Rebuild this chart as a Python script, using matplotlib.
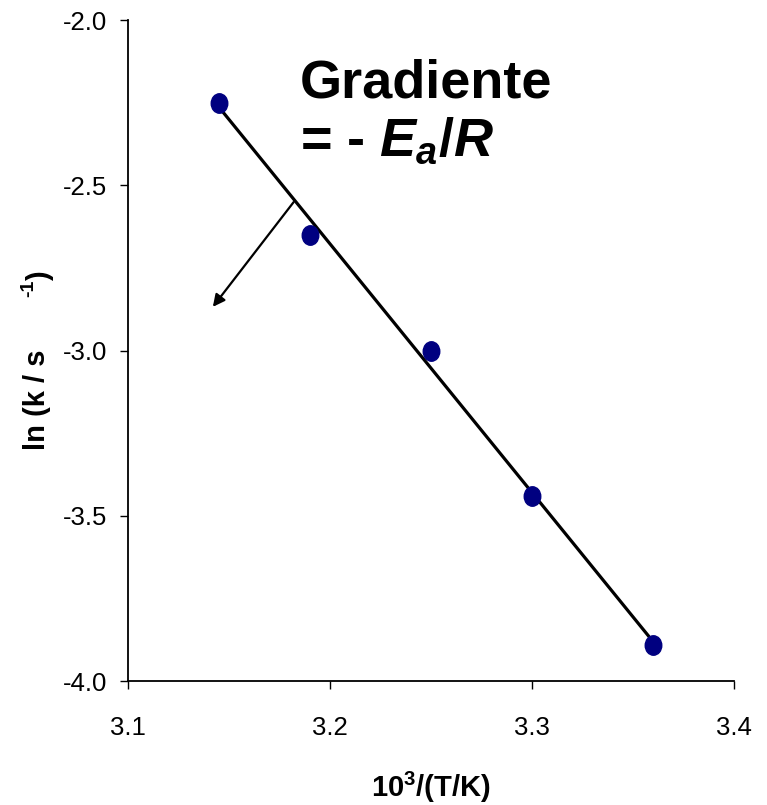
import matplotlib
matplotlib.use("Agg")
import matplotlib.pyplot as plt
import numpy as np
from matplotlib.path import Path
from matplotlib.transforms import Affine2D

# data
inv_T = [3.145, 3.19, 3.25, 3.30, 3.36]
ln_k = [-2.25, -2.65, -3.00, -3.44, -3.89]
x_ticks = [3.1, 3.2, 3.3, 3.4]
y_ticks = [-4.0, -3.5, -3.0, -2.5, -2.0]
arrow_from = (3.182, -2.551)
arrow_to = (3.142, -2.868)

plt.rcParams['font.family'] = ['Liberation Sans', 'DejaVu Sans']
plt.rcParams['mathtext.fontset'] = 'custom'
plt.rcParams['mathtext.rm'] = 'Liberation Sans:bold'
plt.rcParams['mathtext.it'] = 'Liberation Sans:bold:italic'
plt.rcParams['mathtext.bf'] = 'Liberation Sans:bold'

fig = plt.figure(figsize=(7.67, 8.05), dpi=100)
ax = fig.add_axes([128 / 767, 1 - 681 / 805, 606 / 767, 661 / 805])

# slightly tall ellipse marker
ellipse = Path.unit_circle().transformed(Affine2D().scale(0.85, 1.0))

# regression line across the data range
slope, icpt = np.polyfit(inv_T, ln_k, 1)
xs = np.array([min(inv_T), max(inv_T)])
ax.plot(xs, slope * xs + icpt, color='black', lw=2.3, zorder=2)
ax.plot(inv_T, ln_k, linestyle='none', marker=ellipse, markersize=14,
        color='#000080', zorder=3)

ax.annotate('', xy=arrow_to, xytext=arrow_from,
            arrowprops=dict(arrowstyle='-|>', color='black', lw=1.6,
                            mutation_scale=18, shrinkA=0, shrinkB=0))

ax.set_xlim(3.1, 3.4)
ax.set_ylim(-4.0, -2.0)
ax.set_xticks(x_ticks)
ax.set_yticks(y_ticks)
ax.set_xticklabels([f'{v:.1f}' for v in x_ticks])
ax.set_yticklabels([f'{v:.1f}' for v in y_ticks])
ax.tick_params(axis='both', direction='out', length=6, width=1, labelsize=18.5)
ax.tick_params(axis='x', pad=19)
ax.tick_params(axis='y', pad=9)
for s in ['top', 'right']:
    ax.spines[s].set_visible(False)
for s in ['left', 'bottom']:
    ax.spines[s].set_linewidth(1.3)

fig.text(300 / 767, 1 - 97 / 805, 'Gradiente',
         weight='bold', fontsize=39, ha='left', va='baseline')
fig.text(300 / 767, 1 - 156 / 805, r'= - $E_{a}$/$R$',
         weight='bold', fontsize=39, ha='left', va='baseline')

fig.text(431 / 767, 1 - 797 / 805, r'10$^{3}$/(T/K)',
         weight='bold', fontsize=21, ha='center', va='baseline')

# y label in pieces, as in the original
fig.text(37 / 767, 1 - 450 / 805, 'ln (k / s',
         weight='bold', fontsize=21, rotation=90, ha='center', va='bottom')
fig.text(29 / 767, 1 - 288 / 805, '-1',
         weight='bold', fontsize=14, rotation=90, ha='center', va='center')
fig.text(40 / 767, 1 - 281 / 805, ')',
         weight='bold', fontsize=21, rotation=90, ha='center', va='bottom')

fig.savefig('out.png', dpi=100)
